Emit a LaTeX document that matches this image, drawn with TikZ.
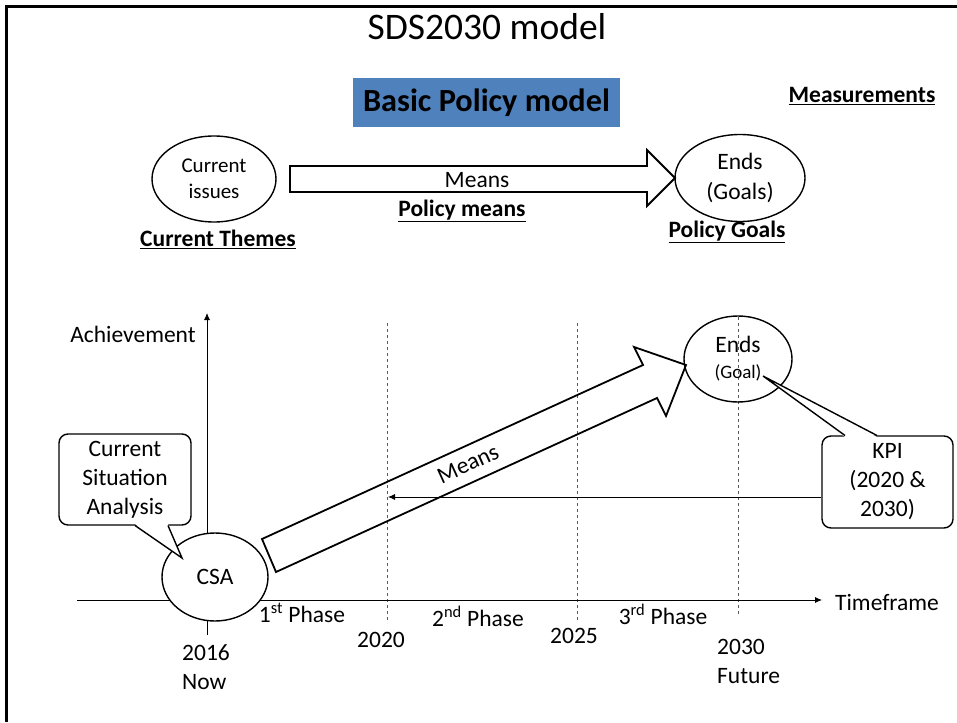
\documentclass[tikz,border=0pt]{standalone}
\usepackage{fontspec}
\setmainfont{Carlito}
\usetikzlibrary{arrows.meta}
\usetikzlibrary{positioning}
\usetikzlibrary{shapes.geometric}
\definecolor{boxblue}{HTML}{4F81BD}
\newcommand\fsz[2]{\fontsize{#1}{#2}\selectfont}
\tikzset{
  oval/.style={draw, line width=1.4pt, ellipse, inner sep=0pt, fill=white, align=center},
  bubble/.style={draw, line width=1.4pt, rounded corners=9pt, fill=white, align=center, inner sep=0pt},
  phase/.style={dashed, gray!70!black, line width=0.6pt},
  axis/.style={line width=0.8pt, -{Latex[length=7pt,width=6pt]}},
  blockarrow/.style={draw, line width=1.8pt, line join=miter},
  heading/.style={font=\fsz{23.5}{28}\bfseries},
  lbl/.style={font=\fsz{23.5}{29}}
}

\begin{document}
\begin{tikzpicture}[x=1pt,y=-1pt]
    \useasboundingbox (0,0) rectangle (957,722);
    \draw[line width=3pt] (6,722) -- (6,7) -- (957,7);

    \node (title) at (487,27) {\fsz{37.5}{44}SDS2030 model};
    \node (basic) [fill=boxblue, minimum width=267pt, minimum height=49pt] at (486.5,102.5) {\fsz{32.3}{38}\bfseries Basic Policy model};
    \node (measure) [heading] at (862,96) {\underline{Measurements}};

    \node (issues) [oval, minimum width=124pt, minimum height=86pt, font=\fsz{21}{26}] at (214,179) {Current\\issues};
    \node (goals) [oval, minimum width=130pt, minimum height=87pt, font=\fsz{23.5}{30}] at (740,178) {Ends\\(Goals)};
    \draw[blockarrow] (290,166) -- (647,166) -- (647,150) -- (675,178) -- (647,206) -- (647,192) -- (290,192) -- cycle;
    \node (means) [font=\fsz{23.5}{28}] at (477,180) {Means};
    \node (pmeans) [heading] at (462,211) {\underline{Policy means}};
    \node (themes) [heading] at (218,239) {\underline{Current Themes}};
    \node (pgoals) [heading] at (727,232) {\underline{Policy Goals}};

    \draw[phase] (387,323) -- (387,623);
    \draw[phase] (577,323) -- (577,622);
    \draw[phase] (738,317) -- (738,615);
    \draw[axis] (77,600) -- (822,600);
    \draw[axis] (207,635) -- (207,313);

    \node (csa) [oval, minimum width=106pt, minimum height=88pt, font=\fsz{23.5}{28}] at (215,577) {CSA};
    \node (goal) [oval, fill=none, minimum width=108pt, minimum height=86pt, font=\fsz{23.5}{26}] at (738,359) {Ends\\{\fsz{19}{26}(Goal)}};

    \draw[blockarrow] (262,539) -- (643,365) -- (634,347) -- (686,365) -- (666,416) -- (657,398) -- (276,572) -- cycle;
    \node (diagmeans) [font=\fsz{23.5}{28}, rotate=24.5] at (468,464) {Means};

    \node (sitbox) [bubble, minimum width=132pt, minimum height=91pt, font=\fsz{23.5}{29}] at (125,479.5) {Current\\Situation\\Analysis};
    \coordinate (sittip) at (182,558);
    \fill[white] (135,524) -- (sittip) -- (168,524) -- cycle;
    \draw[line width=1.4pt] (135,525.5) -- (sittip) -- (168,525.5);

    \node (kpi) [bubble, minimum width=131pt, minimum height=92pt, font=\fsz{23.5}{29}] at (887.5,482) {KPI\\(2020 \&\\2030)};
    \coordinate (kpitip) at (763,376);
    \fill[white] (845,437) -- (kpitip) -- (877,437) -- cycle;
    \draw[line width=1.4pt] (845,435.5) -- (kpitip) -- (877,435.5);

    \coordinate (mark2020) at (388,497);
    \draw[axis] (kpi.west |- mark2020) -- (mark2020);

    \node (achieve) [lbl] at (133,334) {Achievement};
    \node (timeframe) [lbl] at (887,602) {Timeframe};
    \node (ph1) [lbl] at (302,613) {1\textsuperscript{st} Phase};
    \node (ph2) [lbl] at (478,616) {2\textsuperscript{nd} Phase};
    \node (ph3) [lbl] at (663,614) {3\textsuperscript{rd} Phase};
    \node (y2020) [lbl] at (381,640) {2020};
    \node (y2025) [lbl] at (574,636) {2025};
    \node (y2016) [lbl, align=left, anchor=west, inner sep=0pt] at (182,667) {2016\\Now};
    \node (y2030) [lbl, align=left, anchor=west, inner sep=0pt] at (717,661) {2030\\Future};
\end{tikzpicture}
\end{document}
